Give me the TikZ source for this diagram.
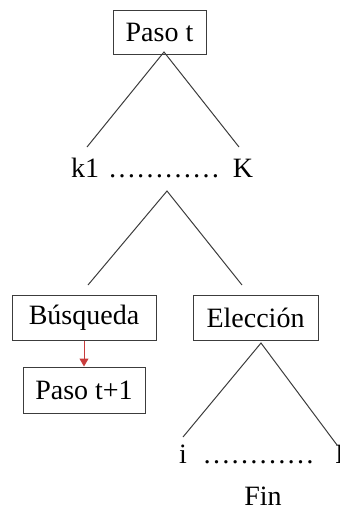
\documentclass[tikz,border=0pt]{standalone}
\usepackage{fontspec}
\setmainfont{Liberation Serif}
\usetikzlibrary{positioning,arrows.meta}
\definecolor{linegray}{RGB}{60,60,60}
\definecolor{arrowred}{RGB}{200,60,60}
\tikzset{
	caja/.style = {draw=linegray, line width=1pt, inner sep=0pt, minimum height=45, font=\fontsize{28}{32}\selectfont},
	texto/.style = {inner sep=0pt, anchor=base, font=\fontsize{28}{32}\selectfont},
	rama/.style = {draw=linegray, line width=1pt}}

\begin{document}
\begin{tikzpicture}[x=1pt, y=-1pt]
\clip (0,0) rectangle (340,512);
\useasboundingbox (0,0) rectangle (340,512);

% NODES
% first step
\node (paso) [caja, minimum width=93, minimum height=44] at (159.5,32) {Paso t};
\coordinate (paso-tip) at (164,52);
% options k1 ... K
\node (k1) [texto] at (85,177) {k1};
\node (kdots) [texto] at (164,177) {…………};
\node (kK) [texto] at (243,177) {K};
\coordinate (k-tip) at (167,191);
\coordinate (k1-top) at (87,147);
\coordinate (kK-top) at (239,147);
% search and choice
\node (busq) [caja, minimum width=144] at (84,317.5) {Búsqueda};
\node (elec) [caja, minimum width=125] at (255.5,317.5) {Elección};
\coordinate (busq-top) at (88,285);
\coordinate (elec-top) at (242,285);
\coordinate (elec-tip) at (261,343);
\node (sig) [caja, minimum width=122, minimum height=46] at (84,390) {Paso t+1};
% i ... I
\node (ii) [texto] at (183,463) {i};
\node (idots) [texto] at (258.5,463) {…………};
\node (iI) [texto, anchor=base west] at (335,463) {I};
\coordinate (ii-top) at (183,437);
\coordinate (iI-top) at (337,445);
\node (fin) [texto] at (263,505) {Fin};

%CONNECTIONS
\draw [rama] (k1-top) -- (paso-tip) -- (kK-top);
\draw [rama] (busq-top) -- (k-tip) -- (elec-top);
\draw [rama] (ii-top) -- (elec-tip) -- (iI-top);
\draw [arrowred, line width=1pt, -{Triangle[length=8pt, width=9pt]}] (busq) -- (sig);

\end{tikzpicture}
\end{document}
